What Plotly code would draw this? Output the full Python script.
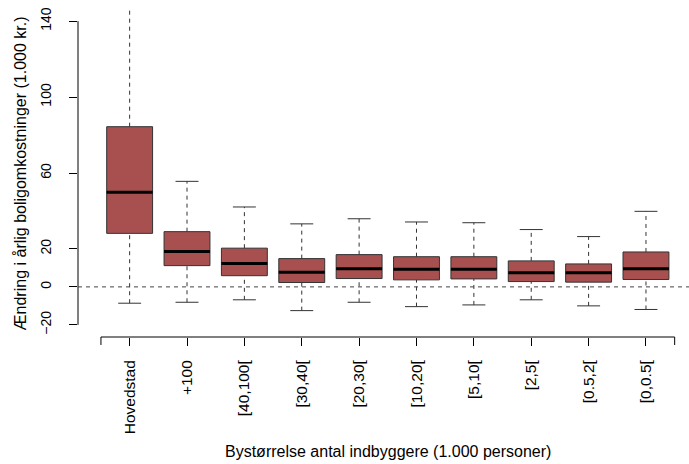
import plotly.graph_objects as go

# Housing-cost change by town size (1,000 DKK), five-number summaries per group
categories = ["Hovedstad", "+100", "[40,100[", "[30,40[", "[20,30[",
              "[10,20[", "[5,10[", "[2,5[", "[0.5,2[", "[0,0.5["]
lower_whisker = [-8.6, -8.1, -6.8, -12.5, -8.1, -10.4, -9.5, -6.8, -10.0, -11.9]
q1_values = [28.2, 11.2, 5.9, 2.3, 4.4, 3.7, 4.2, 2.8, 2.5, 3.9]
medians = [49.8, 18.6, 12.3, 7.7, 9.6, 9.3, 9.3, 7.4, 7.4, 9.6]
q3_values = [84.4, 29.1, 20.4, 14.9, 17.0, 15.9, 15.9, 13.7, 12.1, 18.4]
upper_whisker = [150.0, 55.6, 42.1, 33.2, 35.9, 34.2, 33.8, 30.2, 26.5, 39.8]
y_ticks = [-20, 0, 20, 60, 100, 140]

positions = list(range(len(categories)))
BOX_W = 0.8
CAP_W = 0.4
FILL = "#A8504F"
EDGE = "#333333"
FONT = "Liberation Sans, Arial, sans-serif"

fig = go.Figure()

# boxes (whiskers are drawn separately so they can be dashed)
fig.add_trace(go.Box(
    x=positions, q1=q1_values, median=medians, q3=q3_values,
    lowerfence=q1_values, upperfence=q3_values,
    width=BOX_W, whiskerwidth=0, fillcolor=FILL,
    line=dict(color=EDGE, width=1), boxpoints=False,
    hoverinfo="skip", showlegend=False,
))

# dashed whiskers
wx, wy = [], []
for p, lo, a, b, hi in zip(positions, lower_whisker, q1_values, q3_values, upper_whisker):
    wx += [p, p, None, p, p, None]
    wy += [lo, a, None, b, hi, None]
fig.add_trace(go.Scatter(x=wx, y=wy, mode="lines", hoverinfo="skip", showlegend=False,
                         line=dict(color=EDGE, width=1, dash="4px,4px")))

# whisker caps
cx, cy = [], []
for p, lo, hi in zip(positions, lower_whisker, upper_whisker):
    for v in (lo, hi):
        cx += [p - CAP_W / 2, p + CAP_W / 2, None]
        cy += [v, v, None]
fig.add_trace(go.Scatter(x=cx, y=cy, mode="lines", hoverinfo="skip", showlegend=False,
                         line=dict(color=EDGE, width=1)))

# thick median bars
mx, my = [], []
for p, m in zip(positions, medians):
    mx += [p - BOX_W / 2, p + BOX_W / 2, None]
    my += [m, m, None]
fig.add_trace(go.Scatter(x=mx, y=my, mode="lines", hoverinfo="skip", showlegend=False,
                         line=dict(color="black", width=3)))

plot_h = 464 - 8.8 - 126.8
tick_len = 8

shapes = [
    # y axis line spanning the tick range
    dict(type="line", xref="paper", yref="y", x0=0, x1=0, y0=y_ticks[0], y1=y_ticks[-1],
         line=dict(color="black", width=1)),
    # x axis line spanning the group range
    dict(type="line", xref="x", yref="paper", x0=positions[0] - 0.5, x1=positions[-1] + 0.5,
         y0=0, y1=0, line=dict(color="black", width=1)),
    # reference line at zero
    dict(type="line", xref="paper", yref="y", x0=0, x1=1, y0=0, y1=0,
         line=dict(color="#444444", width=1, dash="4px,4px")),
]
for xe in (positions[0] - 0.5, positions[-1] + 0.5):
    shapes.append(dict(type="line", xref="x", yref="paper", x0=xe, x1=xe,
                       y0=0, y1=-tick_len / plot_h, line=dict(color="black", width=1)))

fig.update_layout(
    width=689, height=464,
    margin=dict(l=77.6, r=0, t=8.8, b=126.8, pad=0),
    paper_bgcolor="white", plot_bgcolor="white",
    font=dict(family=FONT, color="black"),
    showlegend=False,
    shapes=shapes,
    xaxis=dict(
        range=[-0.9, 9.75], tickmode="array", tickvals=positions, ticktext=categories,
        tickangle=-90, ticks="outside", ticklen=tick_len, tickcolor="black", tickwidth=1,
        tickfont=dict(size=15.5, family=FONT, color="black"), ticklabelstandoff=8,
        showgrid=False, zeroline=False, showline=False,
    ),
    yaxis=dict(
        range=[-26.4, 146.4], tickmode="array", tickvals=y_ticks,
        tickangle=-90, ticks="outside", ticklen=tick_len, tickcolor="black", tickwidth=1,
        tickfont=dict(size=14, family=FONT, color="black"), ticklabelstandoff=12,
        showgrid=False, zeroline=False, showline=False,
    ),
    annotations=[
        dict(text="Ændring i årlig boligomkostninger (1.000 kr.)", xref="paper", yref="paper",
             x=(20 - 77.6) / 611.4, y=0.5, textangle=-90, showarrow=False,
             xanchor="center", yanchor="middle", font=dict(size=16, family=FONT, color="black")),
        dict(text="Bystørrelse antal indbyggere (1.000 personer)", xref="paper", yref="paper",
             x=(387.6 - 77.6) / 611.4, y=-(452 - 337.2) / plot_h, showarrow=False,
             xanchor="center", yanchor="middle", font=dict(size=16, family=FONT, color="black")),
    ],
)

fig.write_html("out.html")
